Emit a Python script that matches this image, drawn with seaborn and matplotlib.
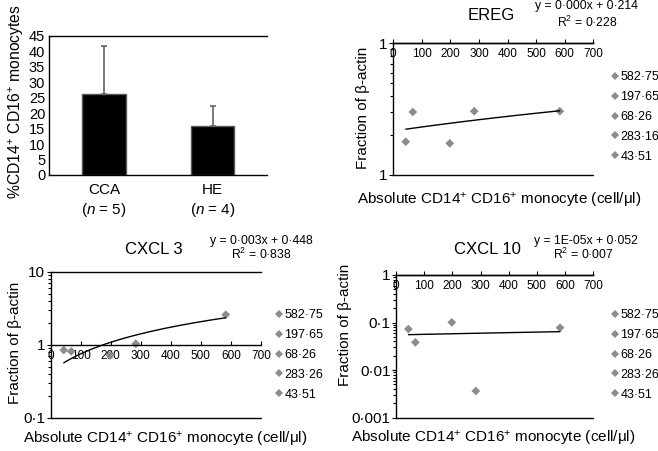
import matplotlib
matplotlib.use("Agg")
import matplotlib.pyplot as plt
import numpy as np
import seaborn as sns
from matplotlib.ticker import FixedLocator, LogLocator, NullFormatter

# ---- data ----
groups = ["CCA", "HE"]
group_n = [5, 4]
pct_mean = [26.3, 15.7]
pct_err = [15.4, 6.7]

x_ticks = [0, 100, 200, 300, 400, 500, 600, 700]

ereg_labels = ["582·75", "197·65", "68·26", "283·16", "43·51"]
ereg_cells = [582.75, 197.65, 68.26, 283.16, 43.51]
ereg_vals = [0.305, 0.174, 0.301, 0.305, 0.179]

cxcl3_labels = ["582·75", "197·65", "68·26", "283·26", "43·51"]
cxcl3_cells = [582.75, 197.65, 68.26, 283.26, 43.51]
cxcl3_vals = [2.58, 0.713, 0.81, 1.03, 0.844]

cxcl10_labels = ["582·75", "197·65", "68·26", "283·26", "43·51"]
cxcl10_cells = [582.75, 197.65, 68.26, 283.26, 43.51]
cxcl10_vals = [0.0778, 0.101, 0.0384, 0.00364, 0.073]

equations = ["y = 0·000x + 0·214", "y = 0·003x + 0·448", "y = 1E-05x + 0·052"]
r_squared = ["R$^2$ = 0·228", "R$^2$ = 0·838", "R$^2$ = 0·007"]

XLABEL = "Absolute CD14$^{+}$ CD16$^{+}$ monocyte (cell/μl)"
YLABEL = "Fraction of β-actin"
GRAY = "#8c8c8c"

sns.set_theme(style="white")
plt.rcParams["font.family"] = ["Liberation Sans", "DejaVu Sans"]
plt.rcParams["mathtext.fontset"] = "custom"
plt.rcParams["mathtext.rm"] = "Liberation Sans"
plt.rcParams["mathtext.it"] = "Liberation Sans:italic"
plt.rcParams["mathtext.bf"] = "Liberation Sans:bold"
plt.rcParams["mathtext.sf"] = "Liberation Sans"
plt.rcParams["text.color"] = "black"
plt.rcParams["axes.labelcolor"] = "black"
plt.rcParams["xtick.color"] = "black"
plt.rcParams["ytick.color"] = "black"

W, H = 658, 451
fig = plt.figure(figsize=(W / 100, H / 100), dpi=100, facecolor="white")


def box(l, t, r, b):
    return [l / W, 1 - b / H, (r - l) / W, (b - t) / H]


def fxy(x, y):
    return x / W, 1 - y / H


# ---- panel A: bar chart ----
ax = fig.add_axes(box(49.3, 35.7, 267, 175))
sns.barplot(x=groups, y=pct_mean, color="black", saturation=1, edgecolor="#5a5a5a",
            linewidth=1, width=0.405, errorbar=None, ax=ax)
ax.errorbar(x=[0, 1], y=pct_mean, yerr=[[0, 0], pct_err], fmt="none", ecolor="#6e6e6e",
            elinewidth=1.3, capsize=2, capthick=1.3, zorder=1)
ax.set_xlim(-0.504, 1.502)
ax.set_ylim(0, 45)
ax.set_yticks(range(0, 46, 5))
ax.set_xticks([0, 1])
ax.set_xticklabels([f"{g}\n($\\mathit{{n}}$ = {n})" for g, n in zip(groups, group_n)])
ax.tick_params(axis="y", length=0, pad=3, labelsize=10.5)
ax.tick_params(axis="x", length=0, pad=6, labelsize=11)
for lab in ax.get_xticklabels():
    lab.set_linespacing(1.25)
ax.spines["right"].set_visible(False)
for s in ["top", "left", "bottom"]:
    ax.spines[s].set_color("black")
    ax.spines[s].set_linewidth(1)
ax.set_ylabel("%CD14$^{+}$ CD16$^{+}$ monocytes", fontsize=11.3, va="center")
ax.yaxis.set_label_coords(*fxy(16.7, 102), transform=fig.transFigure)


# ---- log panels ----
def log_panel(rect, cells, vals, labels, ylim, yticks, yticklabels, title, eq, r2,
              title_xy, eq_xy, r2_xy, xlab_xy, ylab_xy, leg_xy):
    ax = fig.add_axes(box(*rect))
    ax.set_yscale("log")
    sns.regplot(x=cells, y=vals, ax=ax, scatter=False, ci=None, truncate=True,
                line_kws=dict(color="black", lw=1))
    sns.scatterplot(x=cells, y=vals, hue=labels, hue_order=labels, palette=[GRAY] * len(labels),
                    marker="D", s=20, edgecolor="none", ax=ax)
    ax.set_xlim(0, 700)
    ax.set_ylim(*ylim)
    ax.xaxis.set_major_locator(FixedLocator(x_ticks))
    ax.set_xticklabels([str(t) for t in x_ticks])
    ax.yaxis.set_major_locator(FixedLocator(yticks))
    ax.set_yticklabels(yticklabels)
    ax.yaxis.set_minor_locator(LogLocator(base=10, subs=np.arange(2, 10)))
    ax.yaxis.set_minor_formatter(NullFormatter())
    ax.spines["right"].set_visible(False)
    ax.spines["bottom"].set_position(("data", 1))
    for s in ["top", "left", "bottom"]:
        ax.spines[s].set_color("black")
        ax.spines[s].set_linewidth(1)
    ax.axhline(ylim[0], color="black", lw=1, clip_on=False)
    ax.tick_params(axis="x", bottom=True, direction="in", length=3, width=0.8, pad=3.5,
                   labelsize=8.5)
    ax.tick_params(axis="y", which="major", left=True, direction="out", length=3, width=0.8,
                   pad=1, labelsize=11)
    ax.tick_params(axis="y", which="minor", left=True, direction="out", length=2.5, width=0.8)
    ax.set_xlabel(XLABEL, fontsize=11, va="center")
    ax.xaxis.set_label_coords(*fxy(*xlab_xy), transform=fig.transFigure)
    ax.set_ylabel(YLABEL, fontsize=11, va="center")
    ax.yaxis.set_label_coords(*fxy(*ylab_xy), transform=fig.transFigure)
    fig.text(*fxy(*title_xy), title, fontsize=12, ha="center", va="center")
    fig.text(*fxy(*eq_xy), eq, fontsize=8.8, ha="center", va="center")
    fig.text(*fxy(*r2_xy), r2, fontsize=8.8, ha="center", va="center")
    ax.legend(loc="upper left", bbox_to_anchor=fxy(*leg_xy), bbox_transform=fig.transFigure,
              frameon=False, fontsize=9, handlelength=0.6, handletextpad=0.15,
              labelspacing=0.62, borderpad=0, borderaxespad=0)
    return ax


log_panel((393.3, 43.3, 593.3, 175), ereg_cells, ereg_vals, ereg_labels,
          (0.1, 1), [0.1, 1], ["1", "1"], "EREG", equations[0], r_squared[0],
          (491.7, 16), (586, 6.5), (587, 22.2), (499, 200), (363, 108), (611, 71.5))

log_panel((50.7, 271.7, 261, 417.7), cxcl3_cells, cxcl3_vals, cxcl3_labels,
          (0.1, 10), [0.1, 1, 10], ["0·1", "1", "10"], "CXCL 3", equations[1], r_squared[1],
          (154.3, 250), (261, 240.7), (261.7, 254), (165, 440), (15, 343), (275, 309.5))

log_panel((396.2, 275, 593, 417.7), cxcl10_cells, cxcl10_vals, cxcl10_labels,
          (0.001, 1), [0.001, 0.01, 0.1, 1], ["0·001", "0·01", "0·1", "1"], "CXCL 10",
          equations[2], r_squared[2],
          (487, 250), (586, 240.7), (583, 254), (493, 438.3), (345, 325), (611, 309.5))

fig.savefig("out.png", dpi=100, facecolor="white")
